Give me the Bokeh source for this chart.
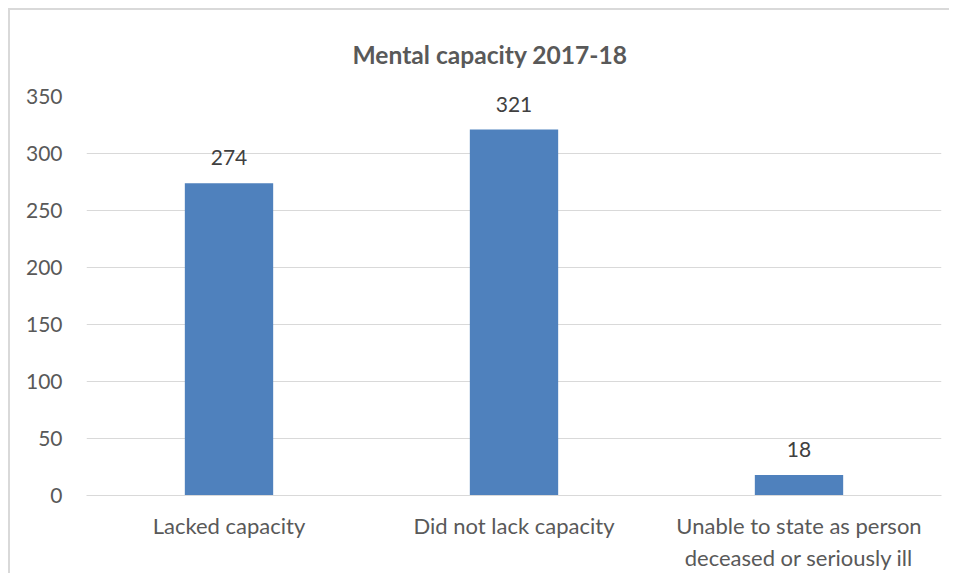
from bokeh.plotting import figure
from bokeh.models import ColumnDataSource, FactorRange, Range1d, LabelSet, Title, SingleIntervalTicker
from bokeh.core.properties import value
from bokeh.embed import file_html
from bokeh.resources import INLINE

categories = ["Lacked capacity", "Did not lack capacity", "Unable to state as person\ndeceased or seriously ill"]
values = [274, 321, 18]
value_labels = ["274", "321", "18"]
title_text = "Mental capacity 2017-18"

FONT = "Lato"
TXT = "#595959"

source = ColumnDataSource(dict(cat=categories, val=values, lab=value_labels))

p = figure(
    x_range=FactorRange(*categories, range_padding=0),
    y_range=Range1d(0, 350),
    frame_width=855, frame_height=399,
    output_backend="svg", toolbar_location=None,
    min_border_left=76, min_border_right=8, min_border_top=86, min_border_bottom=60,
)
p.styles = {"border-left": "2px solid #d9d9d9", "border-top": "2px solid #d9d9d9",
            "margin-left": "8px", "margin-top": "8px"}
p.outline_line_color = None
p.background_fill_color = "white"
p.border_fill_color = "white"

p.vbar(x="cat", top="val", width=0.31, source=source, fill_color="#4F81BD", line_color=None)

labels = LabelSet(x="cat", y="val", text="lab", source=source, y_offset=18,
                  text_align="center", text_baseline="alphabetic",
                  text_font=value(FONT), text_font_size=value("21px"), text_color=value("#404040"))
p.add_layout(labels)

t = Title(text=title_text, align="left", offset=266, standoff=52, vertical_align="top",
          text_line_height=0.7,
          text_font=FONT, text_font_size="24.6px", text_font_style="bold", text_color=TXT)
p.add_layout(t, "above")

p.yaxis.ticker = SingleIntervalTicker(interval=50)
p.yaxis.axis_line_color = None
p.yaxis.major_tick_line_color = None
p.yaxis.minor_tick_line_color = None
p.yaxis.major_label_standoff = 18
p.yaxis.major_label_text_font = FONT
p.yaxis.major_label_text_font_size = "21px"
p.yaxis.major_label_text_color = TXT

p.xaxis.axis_line_color = "#d9d9d9"
p.xaxis.major_tick_line_color = None
p.xaxis.minor_tick_line_color = None
p.xaxis.major_label_standoff = 10
p.xaxis.major_label_text_font = FONT
p.xaxis.major_label_text_font_size = "22px"
p.xaxis.major_label_text_color = TXT

p.xgrid.grid_line_color = None
p.ygrid.grid_line_color = "#d9d9d9"
p.ygrid.grid_line_width = 1

open("out.html", "w").write(file_html(p, INLINE))
